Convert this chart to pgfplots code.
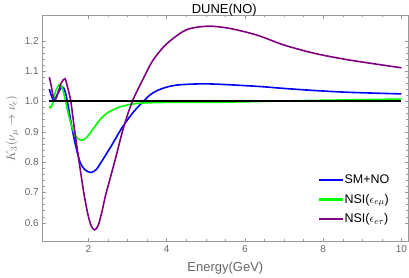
\documentclass[border=0pt]{standalone}
\usepackage{pgfplots}
\pgfplotsset{compat=1.18}
\usepackage{fontspec}
\setmainfont{Liberation Sans}
\definecolor{mmaBlue}{rgb}{0,0,1}
\definecolor{mmaGreen}{rgb}{0,1,0}
\definecolor{mmaPurple}{rgb}{0.5,0,0.5}
\definecolor{axgray}{rgb}{0.6,0.6,0.6}
\definecolor{lblgray}{rgb}{0.4,0.4,0.4}
\pgfplotsset{
  barleg/.style={legend image code/.code={\fill[#1] (0pt,-0.5pt) rectangle (22pt,0.5pt);}},
}
\begin{document}
\begin{tikzpicture}
\begin{axis}[
  scale only axis,
  width=366.2pt, height=226.7pt,
  xmin=0.82, xmax=10.18, ymin=0.538, ymax=1.285,
  axis line style={axgray, line width=0.6pt},
  tick style={axgray, line width=0.5pt},
  major tick length=4pt, minor tick length=2.5pt,
  tick align=inside,
  xtick={2,4,6,8,10}, minor x tick num=3,
  ytick={0.6,0.7,0.8,0.9,1.0,1.1,1.2}, minor y tick num=4,
  tick label style={font=\fontsize{10}{12}\selectfont, text=lblgray},
  /pgf/number format/assume math mode=true,
  yticklabel style={/pgf/number format/.cd, fixed, fixed zerofill, precision=1},
  xticklabel style={/pgf/number format/.cd, fixed, precision=0},
  title={DUNE(NO)},
  every axis title/.style={at={(axis description cs:0.497,1)}, anchor=base, inner sep=0pt, yshift=1.7pt, font=\fontsize{13}{15}\selectfont},
  xlabel={Energy(GeV)},
  xlabel style={at={(axis description cs:0.5,-0.115)}, anchor=center, font=\fontsize{13}{15}\selectfont, text=lblgray},
  ylabel={$K_3(\nu_\mu\to\nu_e)$},
  ylabel style={at={(axis description cs:-0.082,0.5)}, anchor=center, rotate=0, font=\fontsize{13}{15}\selectfont, text=lblgray},
  legend cell align=left,
  legend style={draw=none, fill=none, font=\fontsize{12.5}{15}\selectfont, text=black,
    at={(axis description cs:0.755,0.305)}, anchor=north west, row sep=5pt, inner sep=0pt},
]
\addplot[draw=mmaBlue, line width=1.6pt, smooth, barleg={fill=mmaBlue}] coordinates {
(1.0,1.041) (1.05,1.02) (1.12,1.002) (1.2,1.022) (1.3,1.045) (1.36,1.046) (1.42,1.025)
(1.5,0.972) (1.58,0.912) (1.67,0.856) (1.78,0.802) (1.9,0.776) (2.06,0.766) (2.2,0.776)
(2.33,0.801) (2.59,0.855) (2.84,0.91) (3.14,0.964) (3.40,1.0) (3.6,1.024) (3.85,1.041)
(4.25,1.054) (5.05,1.058) (6.3,1.05) (7.0,1.043) (7.8,1.036) (8.7,1.03) (10.0,1.025)
};
\addlegendentry{SM+NO}
\addplot[draw=mmaGreen, line width=1.6pt, smooth, barleg={fill=mmaGreen}] coordinates {
(1.0,0.985) (1.03,0.979) (1.08,0.992) (1.15,1.03) (1.25,1.056) (1.32,1.048) (1.4,1.01)
(1.5,0.952) (1.6,0.908) (1.7,0.882) (1.82,0.872) (1.95,0.881) (2.12,0.91) (2.3,0.941)
(2.5,0.964) (2.8,0.982) (3.1,0.991) (3.4,0.995) (4.0,0.997) (5.0,0.997) (6.0,0.999)
(7.5,1.003) (10.0,1.008)
};
\addlegendentry{NSI($\epsilon_{e\mu}$)}
\addplot[draw=mmaPurple, line width=1.6pt, smooth, barleg={fill=mmaPurple}] coordinates {
(1.0,1.08) (1.05,1.05) (1.1,1.015) (1.14,1.003) (1.2,1.02) (1.3,1.06) (1.4,1.075)
(1.46,1.05) (1.55,0.999) (1.64,0.911) (1.76,0.802) (1.89,0.692) (2.0,0.62) (2.08,0.588)
(2.16,0.577) (2.25,0.592) (2.35,0.64) (2.44,0.692) (2.67,0.802) (2.89,0.911) (3.12,1.0)
(3.4,1.075) (3.65,1.136) (4.0,1.19) (4.5,1.236) (5.05,1.248) (5.6,1.241) (6.3,1.219)
(7.0,1.186) (7.8,1.158) (8.7,1.136) (10.0,1.111)
};
\addlegendentry{NSI($\epsilon_{e\tau}$)}
\addplot[draw=black, line width=2pt, forget plot] coordinates {(1.0,1.0) (10.0,1.0)};
\end{axis}
\pgfresetboundingbox
\path (current axis.south west) ++(-42.3pt,-36.3pt) rectangle ++(409pt,278pt);
\end{tikzpicture}
\end{document}
